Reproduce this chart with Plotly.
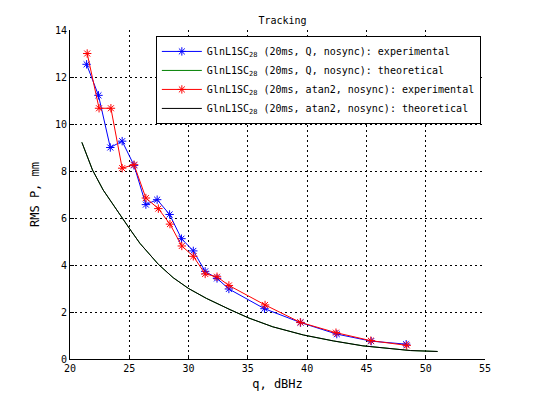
import plotly.graph_objects as go

# experimental points, Q discriminator
q_exp_q = [21.4, 22.4, 23.4, 24.4, 25.4, 26.4, 27.35, 28.4, 29.4, 30.4, 31.4, 32.4, 33.4, 36.4, 39.45, 42.5, 45.4, 48.35]
rms_exp_q = [12.54, 11.22, 9.0, 9.27, 8.24, 6.57, 6.78, 6.15, 5.12, 4.6, 3.73, 3.43, 2.98, 2.14, 1.55, 1.06, 0.76, 0.63]

# experimental points, atan2 discriminator
q_exp_atan = [21.45, 22.45, 23.45, 24.4, 25.4, 26.4, 27.45, 28.43, 29.43, 30.4, 31.4, 32.4, 33.4, 36.45, 39.42, 42.43, 45.37, 48.4]
rms_exp_atan = [13.0, 10.67, 10.67, 8.12, 8.27, 6.85, 6.4, 5.74, 4.81, 4.37, 3.62, 3.5, 3.13, 2.3, 1.56, 1.12, 0.78, 0.58]

# theoretical curve (same for both discriminators)
q_theory = [21.0, 21.9, 22.8, 24.2, 25.1, 25.9, 26.75, 27.45, 28.7, 30.0, 31.5, 32.7, 33.5, 35.1, 37.1, 39.7, 42.2, 44.7, 47.0, 48.7, 51.0]
rms_theory = [9.22, 8.04, 7.19, 6.12, 5.49, 4.92, 4.42, 4.03, 3.46, 3.0, 2.58, 2.28, 2.1, 1.74, 1.37, 1.02, 0.77, 0.56, 0.43, 0.36, 0.32]

font_name = "DejaVu Sans Mono"

fig = go.Figure()

fig.add_trace(go.Scatter(x=q_exp_q, y=rms_exp_q, mode='lines+markers',
                         name='GlnL1SC<sub>28</sub> (20ms, Q, nosync): experimental',
                         line=dict(color='rgb(0,0,255)', width=1),
                         marker=dict(symbol='asterisk-open', size=7,
                                     line=dict(color='rgb(0,0,255)', width=1))))
fig.add_trace(go.Scatter(x=q_theory, y=rms_theory, mode='lines',
                         name='GlnL1SC<sub>28</sub> (20ms, Q, nosync): theoretical',
                         line=dict(color='rgb(0,128,0)', width=1)))
fig.add_trace(go.Scatter(x=q_exp_atan, y=rms_exp_atan, mode='lines+markers',
                         name='GlnL1SC<sub>28</sub> (20ms, atan2, nosync): experimental',
                         line=dict(color='rgb(255,0,0)', width=1),
                         marker=dict(symbol='asterisk-open', size=7,
                                     line=dict(color='rgb(255,0,0)', width=1))))
fig.add_trace(go.Scatter(x=q_theory, y=rms_theory, mode='lines',
                         name='GlnL1SC<sub>28</sub> (20ms, atan2, nosync): theoretical',
                         line=dict(color='black', width=1)))

fig.update_xaxes(
    range=[20, 55], tick0=20, dtick=5,
    showgrid=True, gridcolor='black', gridwidth=1, griddash='2px,3px',
    showline=True, linecolor='black', linewidth=1, mirror=False,
    ticks='inside', ticklen=4, tickcolor='black', zeroline=False,
    title_text="q, dBHz", title_standoff=6,
    tickfont=dict(family=font_name, size=10, color='black'))

fig.update_yaxes(
    range=[0, 14], tick0=0, dtick=2,
    showgrid=True, gridcolor='black', gridwidth=1, griddash='2px,3px',
    showline=True, linecolor='black', linewidth=1, mirror=False,
    ticks='inside', ticklen=4, tickcolor='black', zeroline=False,
    title_text="RMS P, mm", title_standoff=12,
    tickfont=dict(family=font_name, size=10, color='black'))

# page has an 8px body margin, so the figure is drawn a bit smaller
fig.update_layout(
    width=528, height=394,
    margin=dict(l=62, r=51, t=22, b=43),
    paper_bgcolor='white', plot_bgcolor='white',
    font=dict(family=font_name, size=10, color='black'),
    title=dict(text="Tracking", x=0.52, xanchor='center', y=0.978,
               font=dict(family=font_name, size=10, color='black')),
    legend=dict(x=0.99, y=0.982, xanchor='right', yanchor='top',
                bordercolor='black', borderwidth=1, bgcolor='white',
                font=dict(family=font_name, size=10, color='black'),
                itemwidth=40, tracegroupgap=0),
)

fig.write_html("out.html")
